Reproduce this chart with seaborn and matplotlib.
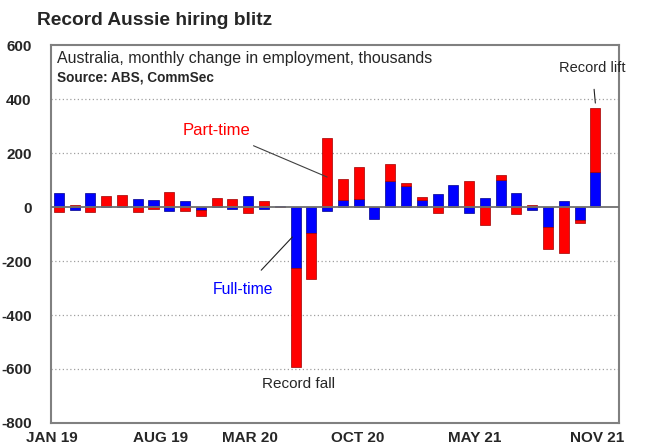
import matplotlib
matplotlib.use("Agg")
import matplotlib.pyplot as plt
import seaborn as sns
import pandas as pd
import numpy as np

# Monthly change in employment ('000), Jan 2019 - Nov 2021
months = pd.date_range("2019-01-01", "2021-11-01", freq="MS").strftime("%b %y").str.upper().tolist()
full_time = [52, -10, 52, 3, 3, 30, 27, -16, 24, -12, 2, -8,
             40, -7, 2, -227, -95, -15, 27, 28, -46, 95, 79, 25,
             49, 83, -22, 33, 99, 53, -10, -74, 21, -49, 129]
part_time = [-20, 8, -20, 37, 40, -18, -9, 56, -14, -23, 33, 30,
             -24, 21, -1, -364, -171, 254, 77, 121, 0, 65, 10, 11,
             -21, 0, 98, -65, 21, -25, 7, -80, -170, -9, 239]
tick_labels = ["JAN 19", "AUG 19", "MAR 20", "OCT 20", "MAY 21", "NOV 21"]

sns.set_style("white")
plt.rcParams['font.family'] = ['Liberation Sans', 'DejaVu Sans']

df = pd.DataFrame({'month': months, 'full_time': full_time, 'part_time': part_time})
# part-time stacks on top of full-time when both move the same way
df['pt_bottom'] = np.where(np.sign(df['full_time']) == np.sign(df['part_time']), df['full_time'], 0)

fig = plt.figure(figsize=(6.52, 4.47), dpi=100)
ax = fig.add_axes([0.0782, 0.0537, 0.8712, 0.8456])

bar_w = 0.64
sns.barplot(data=df, x='month', y='full_time', color='#0000ff', saturation=1,
            width=bar_w, edgecolor='#00008b', linewidth=0.5, errorbar=None, ax=ax, zorder=3)
xpos = np.arange(len(df))
ax.bar(xpos, df['part_time'], bottom=df['pt_bottom'], width=bar_w, color='#ff0000',
       edgecolor='#a00000', linewidth=0.5, zorder=3)

ax.set_xlim(-0.5, 35.5)
ax.set_ylim(-800, 600)
ax.set_yticks(np.arange(-800, 601, 200))
ax.set_yticklabels([str(v) for v in range(-800, 601, 200)], fontweight='bold', fontsize=11)
for v in range(-600, 600, 200):
    if v != 0:
        ax.axhline(v, color='#a0a0a0', linestyle=(0, (1, 2)), linewidth=0.9, zorder=1)
ax.axhline(0, color='#707070', linewidth=1.3, zorder=4)

# labels sit roughly every 7 months, a little left of the month bars
ax.set_xticks([-0.45, 6.45, 12.1, 18.95, 26.35, 34.1])
ax.set_xticklabels(tick_labels, fontweight='bold', fontsize=11)
ax.set_xticks(np.arange(-0.5, 36, 1), minor=True)
ax.tick_params(axis='x', which='major', length=0, pad=6)
ax.tick_params(axis='x', which='minor', direction='in', length=4, color='#808080', width=0.8)
ax.tick_params(axis='y', length=0, pad=14)
ax.set_xlabel('')
ax.set_ylabel('')
for sp in ax.spines.values():
    sp.set_color('#808080')
    sp.set_linewidth(1.5)

fig.text(0.056, 0.955, 'Record Aussie hiring blitz', fontsize=13.8, fontweight='bold', va='center')
ax.text(0.011, 0.983, 'Australia, monthly change in employment, thousands',
        transform=ax.transAxes, fontsize=11.5, va='top')
ax.text(0.011, 0.933, 'Source: ABS, CommSec', transform=ax.transAxes,
        fontsize=9.8, fontweight='bold', va='top')

# annotations
ax.annotate('Part-time', xy=(17.0, 111), xytext=(10.0, 285), color='#ff0000', fontsize=12,
            ha='center', va='center',
            arrowprops=dict(arrowstyle='-', color='#404040', lw=0.8, shrinkA=9, shrinkB=0))
ax.annotate('Full-time', xy=(14.8, -111), xytext=(11.7, -304), color='#0000ff', fontsize=11.3,
            ha='center', va='center',
            arrowprops=dict(arrowstyle='-', color='#202020', lw=0.8, shrinkA=8, shrinkB=0))
ax.text(15.2, -656, 'Record fall', fontsize=11, ha='center', va='center')
ax.annotate('Record lift', xy=(34.0, 385), xytext=(33.8, 515), fontsize=10.5,
            ha='center', va='center',
            arrowprops=dict(arrowstyle='-', color='#202020', lw=0.8, shrinkA=8, shrinkB=0))

plt.savefig('out.png', dpi=100)
